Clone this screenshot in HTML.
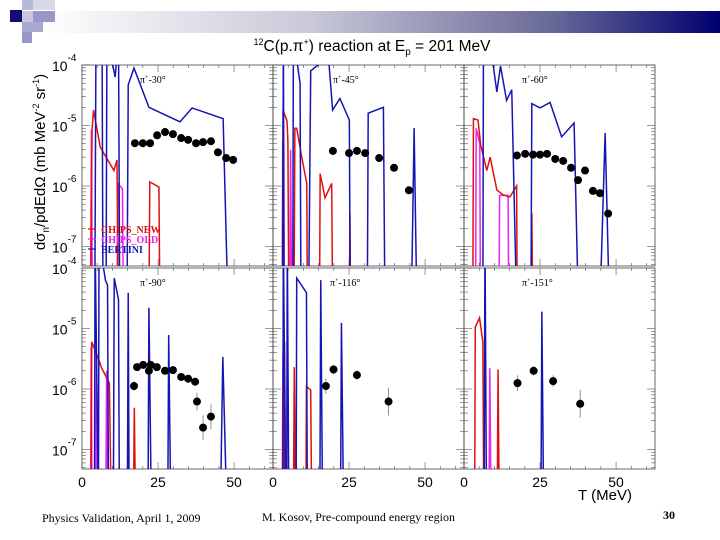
<!DOCTYPE html>
<html><head><meta charset="utf-8"><style>
html,body{margin:0;padding:0;background:#fff;}
svg{display:block;font-family:"Liberation Sans",sans-serif;}
.ser{font-family:"Liberation Serif",serif;}
</style></head><body>
<svg id="chart" width="720" height="540" viewBox="0 0 720 540">
<defs>
<linearGradient id="bar" x1="0" x2="1" y1="0" y2="0">
<stop offset="0" stop-color="#ffffff"/><stop offset="0.4" stop-color="#c8c8d8"/><stop offset="0.75" stop-color="#6a6a98"/><stop offset="1" stop-color="#000070"/>
</linearGradient>
</defs>
<g>
<rect x="40" y="11" width="680" height="22" fill="url(#bar)"/>
<rect x="10" y="10" width="12" height="12" fill="#10106e"/>
<rect x="22" y="0" width="11" height="10" fill="#b8b8d8"/>
<rect x="33" y="0" width="22" height="10" fill="#d8d8ea"/>
<rect x="22" y="11" width="11" height="11" fill="#c8c8e0"/>
<rect x="33" y="11" width="22" height="11" fill="#9898c8"/>
<rect x="22" y="22" width="21" height="10" fill="#a8a8d0"/>
<rect x="22" y="32" width="10" height="11" fill="#9898c8"/>
</g>
<text x="372" y="51" font-size="15.5" text-anchor="middle"><tspan font-size="9" dy="-6">12</tspan><tspan dy="6">C(p.π</tspan><tspan font-size="9" dy="-6">+</tspan><tspan dy="6">) reaction at E</tspan><tspan font-size="10" dy="4">p</tspan><tspan dy="-4"> = 201 MeV</tspan></text>
<text transform="translate(45,162) rotate(-90)" font-size="15" text-anchor="middle">dσ<tspan font-size="10" dy="4">n</tspan><tspan dy="-4">/pdEdΩ (mb MeV</tspan><tspan font-size="9" dy="-6">-2</tspan><tspan dy="6"> sr</tspan><tspan font-size="9" dy="-6">-1</tspan><tspan dy="6">)</tspan></text>
<text x="605" y="500" font-size="15" text-anchor="middle">T (MeV)</text>
<text class="ser" x="42" y="522" font-size="12">Physics Validation, April 1, 2009</text>
<text class="ser" x="262" y="521" font-size="12">M. Kosov, Pre-compound energy region</text>
<text class="ser" x="663" y="519" font-size="12" font-weight="bold">30</text>
<g id="plots"></g>
</svg>
<script>
const NS="http://www.w3.org/2000/svg";
const F=1e-8;
const panelTitles=["-30°","-45°","-60°","-90°","-116°","-151°"];
const xTickLabels=["0","25","50"];
const xTickValues=[0,25,50];
const yDecades=[-4,-5,-6,-7];
const seriesNames=["CHIPS_NEW","CHIPS_OLD","BERTINI"];
// experimental data (T in MeV, cross section)
const dataT1=[17.4,20,22.4,24.7,27.3,29.9,32.6,34.9,37.5,39.8,42.4,44.7,47.4,49.7];
const dataV1=[5.1e-6,5.1e-6,5.1e-6,6.9e-6,7.8e-6,7.2e-6,6.2e-6,5.8e-6,5.1e-6,5.3e-6,5.5e-6,3.6e-6,2.9e-6,2.7e-6];
const dataT2=[19.7,25,27.6,30.3,34.9,39.8,44.7];
const dataV2=[3.8e-6,3.5e-6,3.8e-6,3.5e-6,2.9e-6,2.0e-6,8.5e-7];
const dataT3=[17.4,20.1,22.7,25,27.3,30,32.6,35.2,37.5,39.8,42.4,44.7,47.4];
const dataV3=[3.2e-6,3.4e-6,3.3e-6,3.3e-6,3.4e-6,2.8e-6,2.6e-6,2.0e-6,1.25e-6,1.8e-6,8.3e-7,7.6e-7,3.5e-7];
const dataT4=[17.1,18.1,20.1,22,22.6,24.6,27.3,29.9,32.6,34.9,37.2,37.8,39.8,42.4];
const dataV4=[1.12e-6,2.3e-6,2.5e-6,2.0e-6,2.5e-6,2.3e-6,2.0e-6,2.05e-6,1.58e-6,1.48e-6,1.32e-6,6.2e-7,2.3e-7,3.5e-7];
const dataE4=[1.2,1.1,1.1,1.1,1.1,1.1,1.1,1.1,1.1,1.1,1.15,1.4,1.6,1.6];
const dataT5=[17.4,19.9,27.6,38];
const dataV5=[1.12e-6,2.1e-6,1.7e-6,6.2e-7];
const dataE5=[1.35,1.2,1.2,1.7];
const dataT6=[17.6,22.9,29.3,38.2];
const dataV6=[1.25e-6,2.0e-6,1.35e-6,5.7e-7];
const dataE6=[1.35,1.2,1.25,1.7];
const dataE1=[1.05,1.05,1.05,1.05,1.05,1.05,1.05,1.05,1.05,1.05,1.05,1.05,1.05,1.05];
const dataE2=[1.08,1.08,1.08,1.08,1.08,1.08,1.12];
const dataE3=[1.05,1.05,1.05,1.05,1.05,1.05,1.05,1.05,1.08,1.08,1.1,1.1,1.15];
// simulation curves
const blueT1=[0,4.2,4.6,6.6,6.9,7.9,8.2,10.9,12.0,12.4,14.8,15.2,17.1,22,32.2,36.2,46.4,48,63];
const blueV1=[F,F,3e-4,3e-4,F,F,3e-4,6.3e-5,3e-4,F,F,4.7e-5,8.9e-5,2.0e-5,1.15e-5,1.95e-5,1.3e-5,F,F];
const redT1=[0,2.8,3.3,3.8,6.0,10.5,11.5,11.9,22.0,22.3,25.3,25.6,63];
const redV1=[F,F,8.5e-6,1.8e-5,4.4e-6,1.8e-6,2.7e-6,F,F,1.17e-6,9.6e-7,F,F];
const magT1=[0,2.8,3.1,3.4,11.5,11.8,13.3,13.6,63];
const magV1=[F,F,8.5e-6,F,F,1.1e-6,9e-7,F,F];
const blueT2=[0,3.2,3.4,3.7,6.5,6.7,8.9,9.2,11.7,12.4,14.8,17.7,19.6,22,25.1,25.4,31.0,31.3,36.3,36.8,45.5,46.4,47.3,63];
const blueV2=[F,F,3e-4,F,F,3e-4,5e-5,F,F,8e-5,1e-4,3e-4,1.8e-5,2.8e-5,1.23e-5,F,F,1.6e-5,2.0e-5,F,F,9.1e-6,F,F];
const redT2=[0,3.1,3.3,4.6,4.9,5.2,6.9,7.2,7.8,9.4,11.1,11.3,15.3,15.5,17.1,19.3,19.6,25.1,25.3,25.5,63];
const redV2=[F,F,1.8e-5,1.2e-5,5.5e-6,F,F,9e-6,9e-6,3.1e-6,1.1e-6,F,F,1.6e-6,6.4e-7,1.1e-6,F,F,3.6e-7,F,F];
const magT2=[0,3.0,3.2,3.5,5.5,5.8,6.1,63];
const magV2=[F,F,5.5e-6,F,F,4e-6,F,F];
const blueT3=[0,6.2,6.4,7.9,8.3,10.8,12.0,14.0,15.7,17.3,22.0,22.3,25,28.3,32.1,36.2,37.6,44.7,46.4,47.8,63];
const blueV3=[F,F,3e-4,3e-4,3e-4,3.6e-5,9.6e-5,2.6e-5,3.9e-5,F,F,2.3e-5,1.95e-5,2.4e-5,6.5e-6,1.1e-5,F,F,7.5e-6,F,F];
const redT3=[0,2.9,3.1,4.6,5.5,7.5,8.6,10.8,12.9,15.1,17.3,17.5,22.0,22.3,22.6,63];
const redV3=[F,F,1.3e-5,1.23e-5,4.7e-6,1.8e-6,3e-6,8.6e-7,7.1e-7,6.6e-7,1.0e-6,F,F,3.6e-7,F,F];
const magT3=[0,3.8,4.0,5.2,5.4,11.5,11.7,14.5,14.7,63];
const magV3=[F,F,9e-6,5e-6,F,F,7e-7,7e-7,F,F];
const blueT4=[0,4.1,4.3,5.4,5.6,7.7,8.4,8.7,10.3,10.6,12.0,12.3,14.9,15.2,15.5,21.7,22,22.8,28.2,28.5,29.2,45.5,46.3,47.6,63];
const blueV4=[F,F,3e-4,F,3e-4,6.3e-5,5.2e-5,F,F,6.8e-5,3e-5,F,F,3.9e-5,F,F,2.2e-5,F,F,7.8e-6,F,F,3.4e-6,F,F];
const redT4=[0,3.0,3.2,5.6,6.3,9.0,9.6,16.9,17.2,17.6,63];
const redV4=[F,F,6e-6,3e-6,2.3e-6,1.25e-6,F,F,4.9e-7,F,F];
const magT4=[0,2.8,3.0,3.3,4.5,4.8,5.1,7.8,8.1,8.4,63];
const magV4=[F,F,5e-6,F,F,3.5e-6,F,F,2e-6,F,F];
const blueT5=[0,3.2,3.4,4.2,4.5,4.7,5.2,7.6,7.8,11.0,11.3,15.4,15.7,16.3,22.2,22.5,23.2,63];
const blueV5=[F,F,3e-4,F,F,3e-4,F,F,6.8e-5,3.9e-5,F,F,6.3e-5,F,F,1.24e-5,F,F];
const redT5=[0,3.6,3.8,4.2,6.7,7.0,7.4,10.8,11.0,12.4,12.7,63];
const redV5=[F,F,6e-6,F,F,2.3e-6,F,F,1.1e-6,9.6e-7,F,F];
const magT5=[0,3.0,3.3,3.6,63];
const magV5=[F,F,4e-6,F,F];
const blueT6=[0,6.6,6.9,7.4,25.3,25.6,26.2,63];
const blueV6=[F,F,3e-4,F,F,1.9e-5,F,F];
const redT6=[0,3.5,3.7,5.1,6.2,6.5,10.9,11.2,11.6,63];
const redV6=[F,F,1.05e-5,1.5e-5,6e-6,F,F,2.1e-6,F,F];
const magT6=[0,8.2,8.5,8.9,63];
const magV6=[F,F,2.2e-6,F,F];

const panels=[
 {dT:dataT1,dV:dataV1,dE:dataE1,bT:blueT1,bV:blueV1,rT:redT1,rV:redV1,mT:magT1,mV:magV1},
 {dT:dataT2,dV:dataV2,dE:dataE2,bT:blueT2,bV:blueV2,rT:redT2,rV:redV2,mT:magT2,mV:magV2},
 {dT:dataT3,dV:dataV3,dE:dataE3,bT:blueT3,bV:blueV3,rT:redT3,rV:redV3,mT:magT3,mV:magV3},
 {dT:dataT4,dV:dataV4,dE:dataE4,bT:blueT4,bV:blueV4,rT:redT4,rV:redV4,mT:magT4,mV:magV4},
 {dT:dataT5,dV:dataV5,dE:dataE5,bT:blueT5,bV:blueV5,rT:redT5,rV:redV5,mT:magT5,mV:magV5},
 {dT:dataT6,dV:dataV6,dE:dataE6,bT:blueT6,bV:blueV6,rT:redT6,rV:redV6,mT:magT6,mV:magV6}
];
const PW=191, PH=201, X0=82, Y0s=[65,268], XMAX=62.8, LMAX=-4, LMIN=-4-PH/60.5;
const root=document.getElementById('plots');
function el(tag,attrs,parent){const e=document.createElementNS(NS,tag);for(const k in attrs)e.setAttribute(k,attrs[k]);(parent||root).appendChild(e);return e;}

panels.forEach((p,i)=>{
 const col=i%3,row=Math.floor(i/3);
 const px=X0+col*PW, py=Y0s[row];
 const xs=t=>px+t/XMAX*PW;
 const ys=v=>py+(LMAX-Math.log10(v))/(LMAX-LMIN)*PH;
 const g=el('g',{});
 
 
 const cid='clip'+i;
 const cp=el('clipPath',{id:cid},g);el('rect',{x:px,y:py,width:PW,height:PH},cp);
 const tk=el('g',{stroke:'#555','stroke-width':0.6},g);
 for(let t=0;t<=60;t+=5){const L=(t%25===0)?7:3;
  el('line',{x1:xs(t),x2:xs(t),y1:py+PH,y2:py+PH-L},tk);
  el('line',{x1:xs(t),x2:xs(t),y1:py,y2:py+L},tk);}
 for(let d=-8;d<=-4;d++){for(let m=1;m<10;m++){const v=m*Math.pow(10,d);const y=ys(v);if(y<py-0.5||y>py+PH+0.5)continue;const L=m===1?8:4;
  el('line',{x1:px,x2:px+L,y1:y,y2:y},tk);el('line',{x1:px+PW,x2:px+PW-L,y1:y,y2:y},tk);}}
 el('rect',{x:px,y:py,width:PW,height:PH,fill:'none',stroke:'#444','stroke-width':0.8},g);
 const cg=el('g',{'clip-path':'url(#'+cid+')'},g);
 const line=(T,V,color,name)=>{const pl=el('polyline',{points:T.map((t,k)=>xs(t)+','+ys(V[k])).join(' '),fill:'none',stroke:color,'stroke-width':1.5},cg);
  
  };
 line(p.mT,p.mV,'#ee22ee','chips-old-curve');
 line(p.rT,p.rV,'#dd1111','chips-new-curve');
 line(p.bT,p.bV,'#1515b5','bertini-curve');
 p.dT.forEach((t,k)=>{const v=p.dV[k],e=p.dE[k];
  const eb=el('line',{x1:xs(t),x2:xs(t),y1:ys(v*e),y2:ys(v/e),stroke:'#777','stroke-width':0.8},cg);
  
  
  const c=el('circle',{cx:xs(t),cy:ys(v),r:4,fill:'#000'},cg);
  
  });
 const tt=el('text',{x:px+(i===1?60:i===4?57:58),y:py+18,'font-size':10,class:'ser'},g);
 
 
 tt.innerHTML='π<tspan font-size="6" dy="-4">+</tspan><tspan dy="4">'+panelTitles[i]+'</tspan>';
 if(row===1){xTickValues.forEach((t,k)=>{const lx=el('text',{x:xs(t),y:py+PH+18,'font-size':14,'text-anchor':'middle'},g);
  
  
  lx.textContent=xTickLabels[k];});}
 if(col===0){yDecades.forEach(d=>{const y=ys(Math.pow(10,d));
  const ly=el('text',{x:52,y:y+6,'font-size':14},g);
  
  
  ly.innerHTML='10<tspan font-size="10" dy="-10">'+d+'</tspan>';});}
 if(i===0){const lg=el('g',{},g);
  
  
  const cols=['#dd1111','#ee22ee','#1515b5'];
  seriesNames.forEach((n,k)=>{const y=py+164+k*10;
   el('line',{x1:px+6,x2:px+14,y1:y,y2:y,stroke:cols[k],'stroke-width':1.2},lg);
   const lt=el('text',{x:px+19,y:y+4,'font-size':10,'font-weight':'bold',fill:cols[k],class:'ser'},lg);
   
   
   lt.textContent=n;});}
});
</script>
</body></html>
